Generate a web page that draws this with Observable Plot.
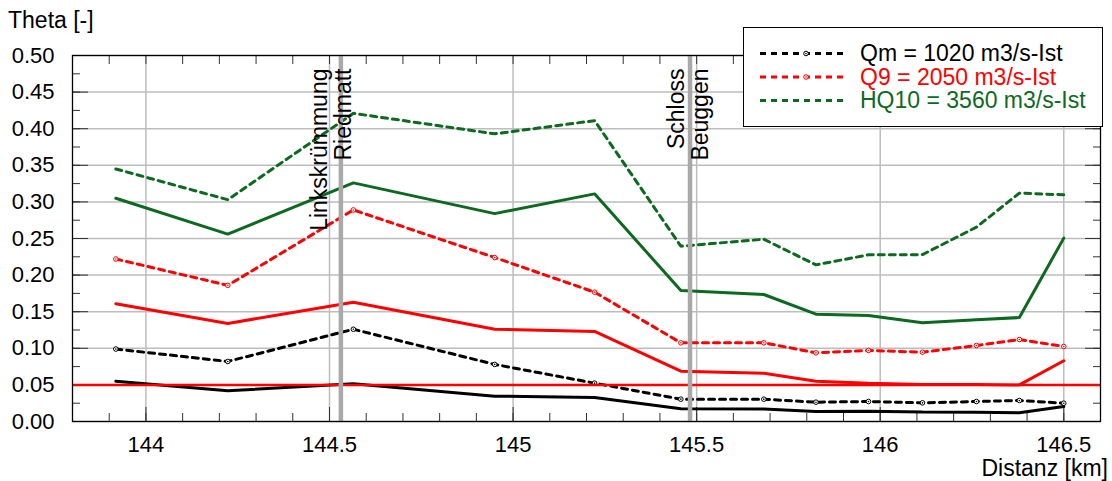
<!DOCTYPE html>
<html>
<head>
<meta charset="utf-8">
<script src="https://cdn.jsdelivr.net/npm/d3@7"></script>
<script src="https://cdn.jsdelivr.net/npm/@observablehq/plot@0.6"></script>
<style>
  html, body { margin: 0; padding: 0; background: white; }
  #wrap { position: relative; width: 1112px; height: 481px; font-family: "Liberation Sans", Arial, Helvetica, sans-serif; }
  #overlay { position: absolute; left: 0; top: 0; pointer-events: none; }
</style>
</head>
<body>
<div id="wrap"></div>
<script>
// ---- data ----
const km = [143.918, 144.223, 144.565, 144.95, 145.222, 145.457, 145.683, 145.825, 145.968, 146.115, 146.262, 146.379, 146.5];

const qmIst   = [0.099, 0.082, 0.126, 0.078, 0.0524, 0.0305, 0.0305, 0.0264, 0.0273, 0.0255, 0.0273, 0.0287, 0.025];
const qmPlan  = [0.055, 0.042, 0.0515, 0.0346, 0.0328, 0.0173, 0.017, 0.0137, 0.014, 0.013, 0.0125, 0.012, 0.0205];
const q9Ist   = [0.222, 0.186, 0.289, 0.224, 0.1767, 0.1075, 0.1075, 0.0938, 0.097, 0.0947, 0.1038, 0.112, 0.1025];
const q9Plan  = [0.161, 0.134, 0.163, 0.126, 0.123, 0.0688, 0.066, 0.055, 0.0524, 0.0505, 0.0505, 0.050, 0.083];
const hq10Ist = [0.345, 0.303, 0.421, 0.393, 0.411, 0.2395, 0.249, 0.214, 0.2277, 0.228, 0.2655, 0.312, 0.3097];
const hq10Plan= [0.305, 0.256, 0.326, 0.284, 0.311, 0.179, 0.1735, 0.1466, 0.1448, 0.1348, 0.139, 0.142, 0.2505];

const legendLabels = ["Qm = 1020 m3/s-Ist", "Q9 = 2050 m3/s-Ist", "HQ10 = 3560 m3/s-Ist"];
const thetaCrit = [0.05];
const landmarksA = [{km: 144.531, label: "Linkskrümmung\nRiedmatt"}];
const landmarksB = [{km: 145.482, label: "Schloss\nBeuggen"}];

const xTicks = [144, 144.5, 145, 145.5, 146, 146.5];
const yTicks = [0, 0.05, 0.1, 0.15, 0.2, 0.25, 0.3, 0.35, 0.4, 0.45, 0.5];
const xMinor = d3.range(1439, 1466).map(d => d / 10);
const yMinor = d3.range(0, 21).map(d => d * 0.025);
const yLabel = "Theta [-]";
const xLabel = "Distanz [km]";

// ---- styles ----
const GREEN = "#0b6a1f", RED = "#ff0000", BLACK = "#000000";
const series = [
  {values: qmIst,   color: BLACK, dashed: true,  markers: true},
  {values: qmPlan,  color: BLACK, dashed: false, markers: false},
  {values: q9Ist,   color: RED,   dashed: true,  markers: true},
  {values: q9Plan,  color: RED,   dashed: false, markers: false},
  {values: hq10Ist, color: GREEN, dashed: true,  markers: false},
  {values: hq10Plan,color: GREEN, dashed: false, markers: false}
];
const legendColors = [BLACK, RED, GREEN];
const legendMarkers = [true, true, false];

const seriesMarks = [];
for (const s of series) {
  const rows = km.map((k, i) => ({km: k, theta: s.values[i]}));
  seriesMarks.push(Plot.line(rows, {x: "km", y: "theta", stroke: s.color, strokeWidth: 3,
    strokeDasharray: s.dashed ? "6,5" : null, strokeLinejoin: "miter"}));
  if (s.markers) {
    seriesMarks.push(Plot.dot(rows, {x: "km", y: "theta", r: 2.3, stroke: s.color, fill: "white", strokeWidth: 1}));
    seriesMarks.push(Plot.dot(rows, {x: "km", y: "theta", r: 0.8, fill: s.color, stroke: null}));
  }
}

const blank = () => "";
const gridStyle = {stroke: "#bdbdbd", strokeOpacity: 1, strokeWidth: 1.5};

const chart = Plot.plot({
  width: 1112,
  height: 481,
  marginLeft: 72,
  marginRight: 12,
  marginTop: 55,
  marginBottom: 60,
  x: {domain: [143.8, 146.6]},
  y: {domain: [0, 0.5]},
  style: {fontFamily: "'Liberation Sans', Arial, Helvetica, sans-serif", fontSize: "22px", color: "black", background: "white"},
  marks: [
    Plot.gridY(yTicks, gridStyle),
    Plot.gridX(xTicks, gridStyle),
    Plot.axisY(yTicks, {anchor: "left", tickSize: 0, tickPadding: 18, tickFormat: d3.format(".2f"), label: null}),
    Plot.axisX(xTicks, {anchor: "bottom", tickSize: 0, tickPadding: 15, tickFormat: d => String(d), label: null}),
    // inward ticks
    Plot.axisY(yMinor, {anchor: "left", tickSize: 8, dx: 8, tickFormat: blank, label: null, stroke: "#333"}),
    Plot.axisY(yTicks, {anchor: "left", tickSize: 16, dx: 16, tickFormat: blank, label: null, stroke: "#333"}),
    Plot.axisY(yMinor, {anchor: "right", tickSize: 8, dx: -8, tickFormat: blank, label: null, stroke: "#333"}),
    Plot.axisY(yTicks, {anchor: "right", tickSize: 16, dx: -16, tickFormat: blank, label: null, stroke: "#333"}),
    Plot.axisX(xMinor, {anchor: "bottom", tickSize: 8, dy: -8, tickFormat: blank, label: null, stroke: "#333"}),
    Plot.axisX(xTicks, {anchor: "bottom", tickSize: 14, dy: -14, tickFormat: blank, label: null, stroke: "#333"}),
    Plot.axisX(xMinor, {anchor: "top", tickSize: 8, dy: 8, tickFormat: blank, label: null, stroke: "#333"}),
    ...seriesMarks,
    Plot.ruleY(thetaCrit, {stroke: RED, strokeWidth: 2.5}),
    Plot.ruleX(landmarksA, {x: "km", stroke: "#a9a9a9", strokeWidth: 4.5}),
    Plot.ruleX(landmarksB, {x: "km", stroke: "#a9a9a9", strokeWidth: 4.5}),
    Plot.text(landmarksA, {x: "km", text: "label", frameAnchor: "top", rotate: -90, textAnchor: "end",
      lineAnchor: "middle", lineHeight: 1.05, dy: 13, dx: -10, fill: "black", fontSize: 23}),
    Plot.text(landmarksB, {x: "km", text: "label", frameAnchor: "top", rotate: -90, textAnchor: "end",
      lineAnchor: "middle", lineHeight: 1.05, dy: 13, dx: -2, fill: "black", fontSize: 23}),
    Plot.frame({stroke: "black", strokeWidth: 1.3})
  ]
});

const wrap = document.getElementById("wrap");
wrap.appendChild(chart);

// ---- overlay: axis titles and legend ----
const ov = d3.select(wrap).append("svg")
  .attr("id", "overlay").attr("width", 1112).attr("height", 481)
  .style("font-family", "'Liberation Sans', Arial, Helvetica, sans-serif")
  .style("font-size", "23px");

ov.append("text").attr("x", 8).attr("y", 28).attr("fill", "black").text(yLabel);
ov.append("text").attr("x", 1108).attr("y", 476).attr("text-anchor", "end").attr("fill", "black").text(xLabel);

const lg = ov.append("g");
lg.append("rect").attr("x", 743.5).attr("y", 27.5).attr("width", 359).attr("height", 99)
  .attr("fill", "white").attr("stroke", "black").attr("stroke-width", 1);
legendLabels.forEach((lab, i) => {
  const base = 61 + i * 23.5;
  const ly = base - 7.5;
  lg.append("line").attr("x1", 760).attr("x2", 848).attr("y1", ly).attr("y2", ly)
    .attr("stroke", legendColors[i]).attr("stroke-width", 3).attr("stroke-dasharray", "6,5");
  if (legendMarkers[i]) {
    lg.append("circle").attr("cx", 806).attr("cy", ly).attr("r", 2.3).attr("fill", "white")
      .attr("stroke", legendColors[i]).attr("stroke-width", 1);
    lg.append("circle").attr("cx", 806).attr("cy", ly).attr("r", 0.8).attr("fill", legendColors[i]);
  }
  lg.append("text").attr("x", 860).attr("y", base).attr("fill", legendColors[i]).text(lab);
});
</script>
</body>
</html>
